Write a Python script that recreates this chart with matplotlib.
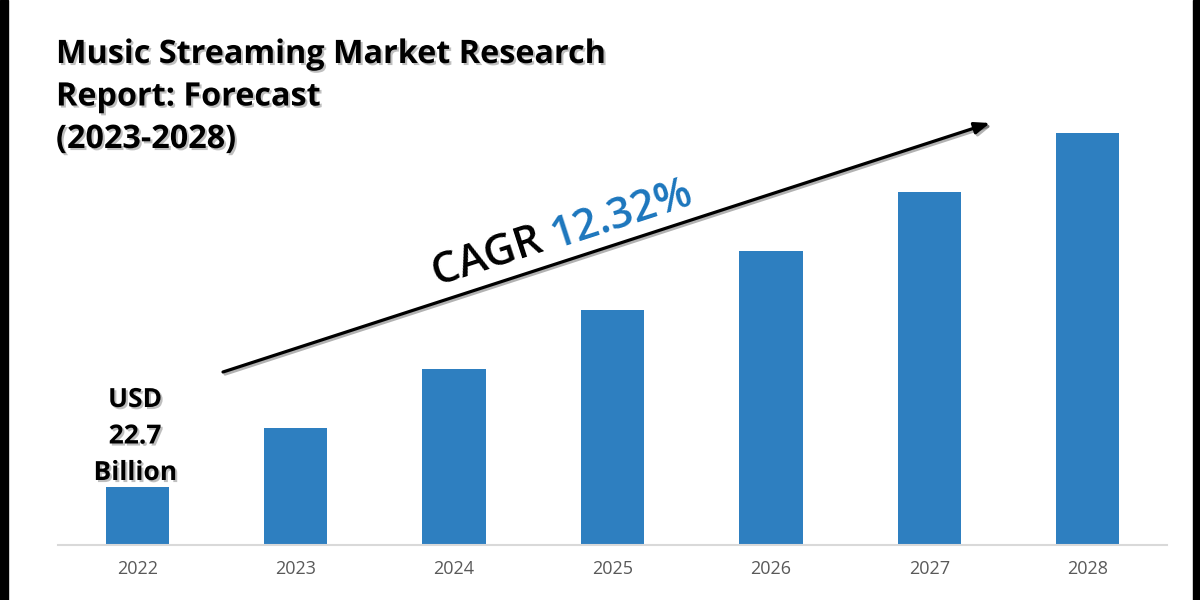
import math
import matplotlib.pyplot as plt
import matplotlib.patheffects as pe
from matplotlib.patches import Rectangle

# data (bar heights, 2022 = 22.7 bn USD)
years = ['2022', '2023', '2024', '2025', '2026', '2027', '2028']
market_size = [22.7, 45.8, 68.9, 92.0, 115.1, 138.2, 161.2]
title_lines = ['Music Streaming Market Research', 'Report: Forecast', '(2023-2028)']
first_label = ['USD', '22.7', 'Billion']
cagr = '12.32%'

bar_color = '#2E7FC0'
cagr_color = '#1C76BD'
W, H = 1200, 600

plt.rcParams['font.family'] = ['Open Sans', 'DejaVu Sans']


def fx(px):
    return px / W


def fy(py):
    return 1 - py / H


fig = plt.figure(figsize=(12, 6), dpi=100)
ax = fig.add_axes([fx(58), fy(545), fx(1167) - fx(58), fy(20) - fy(545)])

x = range(len(years))
ax.bar(x, market_size, width=0.4, color=bar_color)
ax.set_xlim(-0.5, 6.5)
ax.set_ylim(0, 205.4)
ax.set_xticks(list(x))
ax.set_xticklabels(years, fontsize=13, color='#595959')
ax.tick_params(axis='x', length=0, pad=11)
ax.set_yticks([])
for s in ['top', 'right', 'left']:
    ax.spines[s].set_visible(False)
ax.spines['bottom'].set_color('#D9D9D9')
ax.spines['bottom'].set_linewidth(1.5)

shadow = [pe.withSimplePatchShadow(offset=(1.5, -1.5), shadow_rgbFace='0.45', alpha=0.45)]

# title
for i, line in enumerate(title_lines):
    fig.text(fx(56), fy(63 + i * 42.5), line, fontsize=23.3, fontweight='bold',
             ha='left', va='baseline', path_effects=shadow)

# label of first bar
for i, line in enumerate(first_label):
    fig.text(fx(135), fy(407 + i * 36.5), line, fontsize=19, fontweight='bold',
             ha='center', va='baseline', path_effects=shadow)

# CAGR arrow
ax.annotate('', xy=(fx(990), fy(123)), xytext=(fx(223), fy(372)),
            xycoords='figure fraction', textcoords='figure fraction',
            arrowprops=dict(arrowstyle='-|>,head_length=0.9,head_width=0.35',
                            color='black', lw=2.3, shrinkA=0, shrinkB=0,
                            path_effects=[pe.SimpleLineShadow(offset=(1.5, -1.5), alpha=0.3),
                                          pe.Normal()]))

ang = math.degrees(math.atan2(372 - 123, 990 - 223))
x0, y0 = 437, 286
cagr_font = dict(fontsize=31, fontweight='semibold')
fig.text(fx(x0), fy(y0), 'CAGR ', color='black', rotation=ang,
         rotation_mode='anchor', ha='left', va='baseline', **cagr_font)
tmp = fig.text(0, 0, 'CAGR ', **cagr_font)
fig.canvas.draw()
wpx = tmp.get_window_extent().width
tmp.remove()
x1 = x0 + wpx * math.cos(math.radians(ang))
y1 = y0 - wpx * math.sin(math.radians(ang))
fig.text(fx(x1), fy(y1), cagr, color=cagr_color, rotation=ang,
         rotation_mode='anchor', ha='left', va='baseline', **cagr_font)

# black side frame
fig.add_artist(Rectangle((0, 0), fx(8), 1, transform=fig.transFigure, color='black'))
fig.add_artist(Rectangle((fx(1193), 0), fx(7), 1, transform=fig.transFigure, color='black'))

fig.savefig('out.png', dpi=100)
